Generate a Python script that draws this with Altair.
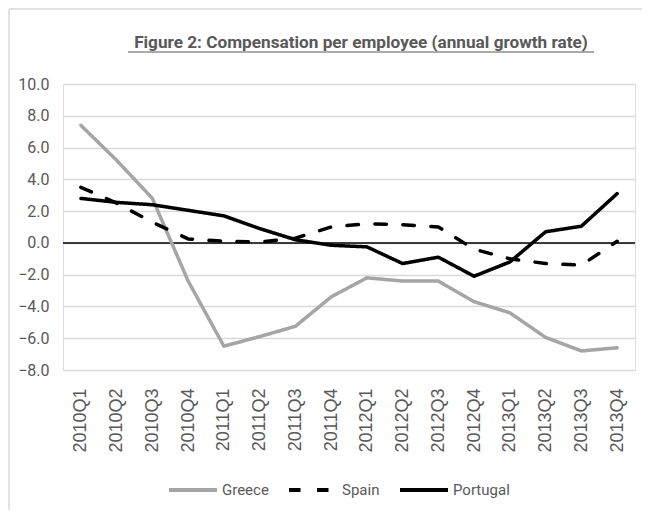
import altair as alt
import pandas as pd

quarters = ["2010Q1", "2010Q2", "2010Q3", "2010Q4",
            "2011Q1", "2011Q2", "2011Q3", "2011Q4",
            "2012Q1", "2012Q2", "2012Q3", "2012Q4",
            "2013Q1", "2013Q2", "2013Q3", "2013Q4"]
greece = [7.4, 5.2, 2.8, -2.4, -6.5, -5.9, -5.25, -3.4,
          -2.2, -2.4, -2.4, -3.7, -4.4, -5.95, -6.8, -6.6]
spain = [3.5, 2.5, 1.3, 0.25, 0.1, 0.05, 0.3, 1.0,
         1.2, 1.15, 1.0, -0.4, -1.0, -1.3, -1.4, 0.1]
portugal = [2.8, 2.55, 2.4, 2.05, 1.7, 0.9, 0.2, -0.15,
            -0.25, -1.3, -0.9, -2.1, -1.2, 0.7, 1.05, 3.1]
series = ["Greece", "Spain", "Portugal"]
y_ticks = [-8, -6, -4, -2, 0, 2, 4, 6, 8, 10]
title_text = "Figure 2: Compensation per employee (annual growth rate)"

rows = []
for name, vals in zip(series, [greece, spain, portugal]):
    for q, v in zip(quarters, vals):
        rows.append({"quarter": q, "value": v, "country": name})
df = pd.DataFrame(rows)

COND = "Roboto, Liberation Sans, sans-serif"
GRAY = "#595959"

y_axis = alt.Axis(values=y_ticks, format=".1f", labelFont=COND, labelFontSize=16,
                  labelColor=GRAY, ticks=False, domain=False, labelPadding=14,
                  gridColor="#d9d9d9", gridWidth=1.5)
y_scale = alt.Scale(domain=[-8, 10], nice=False)

lines = alt.Chart(df).mark_line(strokeWidth=3.5, strokeCap="round", strokeJoin="round").encode(
    x=alt.X("quarter:O", sort=quarters, title=None,
            axis=alt.Axis(labelAngle=270, labelFont="Liberation Sans, Arial, sans-serif",
                          labelFontSize=18, labelColor=GRAY, ticks=False, domain=False,
                          labelPadding=18, grid=False)),
    y=alt.Y("value:Q", title=None, scale=y_scale, axis=y_axis),
    color=alt.Color("country:N", sort=series,
                    scale=alt.Scale(domain=series, range=["#a5a5a5", "#000000", "#000000"]),
                    legend=alt.Legend(title=None, orient="none", direction="horizontal",
                                      legendX=104, legendY=380,
                                      symbolType="stroke", symbolSize=2300, symbolStrokeWidth=4,
                                      labelFont=COND, labelFontSize=15, labelColor=GRAY,
                                      columnPadding=12, labelOffset=3)),
    strokeDash=alt.StrokeDash("country:N", sort=series,
                              scale=alt.Scale(domain=series, range=[[1, 0], [11.5, 16.5], [1, 0]]),
                              legend=None),
)

zero = alt.Chart(pd.DataFrame({"z": [0]})).mark_rule(color="black", strokeWidth=1.5).encode(
    y=alt.Y("z:Q", title=None, scale=y_scale, axis=y_axis)
)

title = alt.Chart(pd.DataFrame({"t": [title_text]})).mark_text(
    font=COND, fontSize=17.2, fontWeight="bold", color=GRAY, align="center", baseline="alphabetic"
).encode(text="t:N", x=alt.value(298), y=alt.value(-36))

underline = alt.Chart(pd.DataFrame({"a": [0]})).mark_rule(color=GRAY, strokeWidth=1.2).encode(
    x=alt.value(65), x2=alt.value(531), y=alt.value(-32)
)

border_top = alt.Chart(pd.DataFrame({"a": [0]})).mark_rule(color="#d9d9d9", strokeWidth=1.5).encode(
    x=alt.value(-54), x2=alt.value(579), y=alt.value(-75)
)
border_left = alt.Chart(pd.DataFrame({"a": [0]})).mark_rule(color="#d9d9d9", strokeWidth=1.5).encode(
    x=alt.value(-54), y=alt.value(-75), y2=alt.value(430)
)

chart = alt.layer(zero, lines, title, underline, border_top, border_left).properties(
    width=572, height=286,
    autosize=alt.AutoSizeParams(type="none"),
    padding={"left": 55, "top": 76, "right": 7, "bottom": 140},
).configure_view(stroke=None).configure(background="white")

chart.save("out.html", embed_options={"renderer": "svg", "actions": False})
